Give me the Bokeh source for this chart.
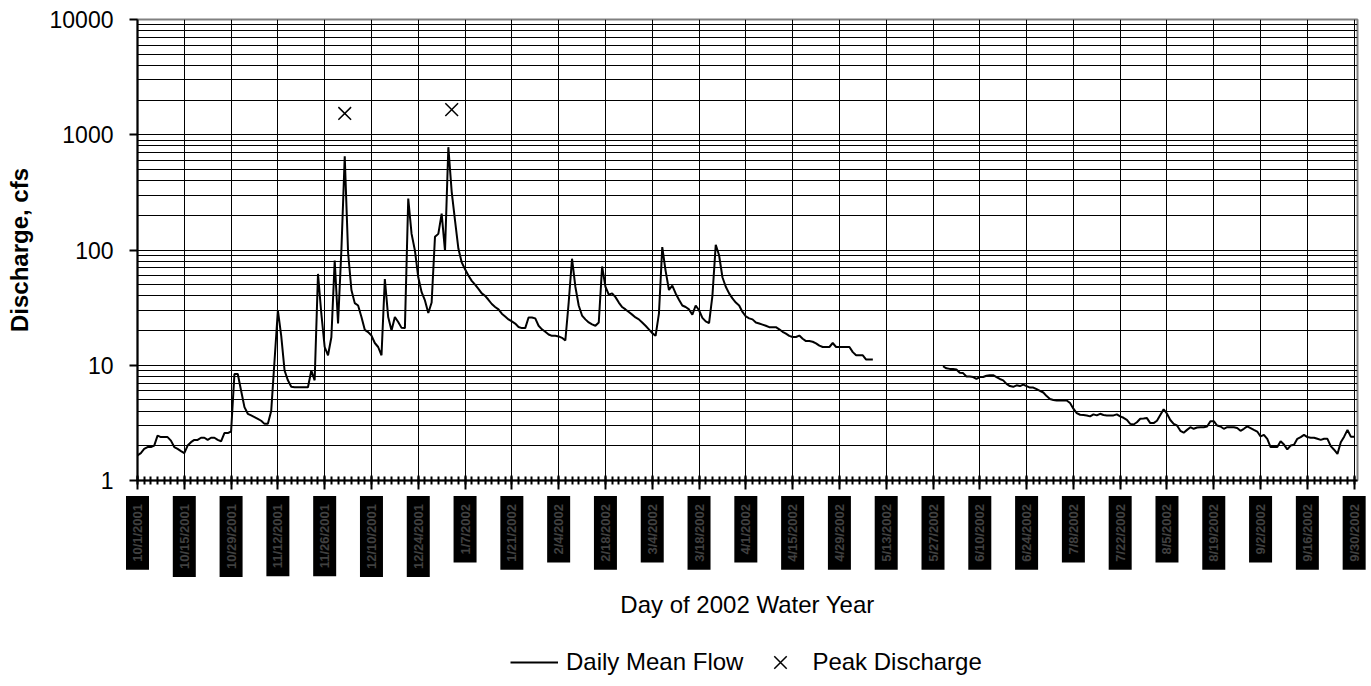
import math
import numpy as np
import pandas as pd
from bokeh.plotting import figure
from bokeh.layouts import column
from bokeh.models import Range1d, FixedTicker, Legend, LegendItem
from bokeh.core.properties import value
from bokeh.embed import file_html
from bokeh.resources import INLINE

nan = float("nan")
start_date = "2001-10-01"

# Daily mean flow, cfs (water year 2002), one list per month
flow_oct = [1.65, 1.73, 1.88, 1.95, 1.95, 2.01, 2.45, 2.38, 2.38, 2.38,
            2.22, 1.95, 1.88, 1.80, 1.73, 2.01, 2.15, 2.25, 2.25, 2.35,
            2.35, 2.25, 2.35, 2.35, 2.25, 2.19, 2.58, 2.58, 2.66, 8.4, 8.4]
flow_nov = [6.0, 4.33, 3.79, 3.67, 3.55, 3.43, 3.3, 3.1, 3.1, 4.0,
            11, 30, 18, 9.0, 7.4, 6.5, 6.45, 6.45, 6.45, 6.45,
            6.45, 9.0, 7.4, 62, 28, 14.4, 12.2, 17.5, 81, 23]
flow_dec = [100, 650, 95, 45, 34.6, 33, 26.2, 20.3, 19.4, 18.1,
            15.6, 14.4, 12.2, 56, 26.2, 20, 26.2, 23.7, 21.1, 21,
            279, 138, 99, 58, 43, 36.5, 28.4, 35, 130, 138, 207]
flow_jan = [98, 780, 320, 180, 103, 78, 68, 60, 54, 50,
            46, 42, 40, 37, 34, 32, 30.5, 28, 26.5, 25,
            24, 23, 21.5, 21, 21, 26, 26, 25.5, 22, 20.5, 19.5]
flow_feb = [18.5, 18, 18, 17.8, 17.3, 16.4, 35, 84, 48, 33,
            27, 25, 23.5, 22.6, 22, 23.5, 72, 48, 41, 42,
            39, 35, 32, 30.5, 29, 27.5, 26, 25]
flow_mar = [23.5, 22, 20.5, 19, 18, 28, 106, 66, 45, 49,
            42, 37, 33, 32, 30.5, 27.5, 33, 30, 25.8, 24,
            23.2, 40, 111, 90, 58, 48, 42, 38, 35, 33, 29]
flow_apr = [26.5, 25.5, 25, 23.5, 23, 22.5, 22, 21.4, 21.4, 21.4,
            20.5, 19.5, 18.8, 18, 17.6, 17.6, 18.1, 17, 16.2, 16.2,
            16, 15.5, 14.8, 14.4, 14.4, 14.4, 15.6, 14.4, 14.4, 14.4]
flow_may = [14.4, 14.4, 13, 12.2, 12.2, 12.2, 11.2, 11.2, 11.2, nan,
            nan, nan, nan, nan, nan, nan, nan, nan, nan, nan,
            nan, nan, nan, nan, nan, nan, nan, nan, nan, 9.8, 9.4]
flow_jun = [9.3, 9.3, 9.2, 8.6, 8.55, 8.0, 8.0, 7.9, 7.6, 7.9,
            7.9, 8.1, 8.2, 8.2, 7.9, 7.6, 7.4, 6.9, 6.6, 6.5,
            6.7, 6.6, 6.8, 6.6, 6.4, 6.4, 6.2, 6.0, 5.8, 5.4]
flow_jul = [5.1, 5.0, 4.95, 4.95, 4.95, 4.95, 4.7, 4.2, 3.85, 3.72,
            3.7, 3.67, 3.6, 3.75, 3.67, 3.79, 3.7, 3.67, 3.67, 3.67,
            3.75, 3.6, 3.5, 3.36, 3.1, 3.06, 3.2, 3.43, 3.45, 3.48, 3.15]
flow_aug = [3.15, 3.3, 3.7, 4.15, 3.8, 3.35, 3.1, 3.0, 2.7, 2.6,
            2.75, 2.9, 2.81, 2.88, 2.9, 2.9, 2.94, 3.27, 3.27, 3.0,
            2.94, 2.81, 2.9, 2.9, 2.9, 2.85, 2.7, 2.81, 2.95, 2.85, 2.75]
flow_sep = [2.66, 2.41, 2.49, 2.3, 1.95, 1.95, 1.95, 2.19, 2.05, 1.86,
            2.01, 2.04, 2.3, 2.38, 2.49, 2.38, 2.35, 2.35, 2.3, 2.25,
            2.3, 2.3, 1.99, 1.85, 1.70, 2.15, 2.4, 2.75, 2.4, 2.4]

peak_dates = ["12/2/2001", "1/3/2002"]
peak_values = [1530, 1650]

tick_labels = ["10/1/2001", "10/15/2001", "10/29/2001", "11/12/2001", "11/26/2001",
               "12/10/2001", "12/24/2001", "1/7/2002", "1/21/2002", "2/4/2002",
               "2/18/2002", "3/4/2002", "3/18/2002", "4/1/2002", "4/15/2002",
               "4/29/2002", "5/13/2002", "5/27/2002", "6/10/2002", "6/24/2002",
               "7/8/2002", "7/22/2002", "8/5/2002", "8/19/2002", "9/2/2002",
               "9/16/2002", "9/30/2002"]
y_ticks = [1, 10, 100, 1000, 10000]
y_minor = [m * 10 ** k for k in range(4) for m in range(2, 10)]

flow = (flow_oct + flow_nov + flow_dec + flow_jan + flow_feb + flow_mar +
        flow_apr + flow_may + flow_jun + flow_jul + flow_aug + flow_sep)
n_days = len(flow)
day = np.arange(n_days)
t0 = pd.Timestamp(start_date)


def day_of(s):
    return (pd.to_datetime(s, format="%m/%d/%Y") - t0).days


tick_pos = [day_of(s) for s in tick_labels]
peak_pos = [day_of(s) for s in peak_dates]

FONT = "Liberation Sans"
W = 1366
FRAME_L, FRAME_R = 137, 1357
H1, H2 = 495, 190

# ---------------- main chart ----------------
p = figure(width=W, height=H1, x_range=Range1d(0, n_days),
           y_range=Range1d(y_ticks[0], y_ticks[-1]), y_axis_type="log",
           output_backend="svg", toolbar_location=None,
           min_border_top=19, min_border_left=FRAME_L, min_border_right=W - FRAME_R,
           min_border_bottom=H1 - 480)
p.frame_align = False
p.background_fill_color = "white"
p.border_fill_color = "white"
p.outline_line_color = "#808080"
p.outline_line_width = 2

p.xgrid.ticker = FixedTicker(ticks=tick_pos)
p.xgrid.grid_line_color = "black"
p.xgrid.grid_line_width = 1
p.ygrid.grid_line_color = "black"
p.ygrid.minor_grid_line_color = "black"
p.ygrid.grid_line_width = 1
p.ygrid.minor_grid_line_width = 1

p.yaxis.ticker = FixedTicker(ticks=y_ticks, minor_ticks=y_minor)
p.yaxis.major_label_overrides = {v: str(v) for v in y_ticks}
p.yaxis.axis_label = "Discharge, cfs"
p.yaxis.axis_label_text_font = FONT
p.yaxis.axis_label_text_font_style = "bold"
p.yaxis.axis_label_text_font_size = "24px"
p.yaxis.axis_label_text_color = "black"
p.yaxis.axis_label_standoff = 14
p.yaxis.major_label_text_font = FONT
p.yaxis.major_label_text_font_size = "23px"
p.yaxis.major_label_text_color = "black"
p.yaxis.major_label_standoff = 16
p.yaxis.axis_line_color = "black"
p.yaxis.axis_line_width = 2
p.yaxis.major_tick_line_color = "black"
p.yaxis.major_tick_line_width = 2
p.yaxis.major_tick_in = 0
p.yaxis.major_tick_out = 8
p.yaxis.minor_tick_in = 0
p.yaxis.minor_tick_out = 0

p.xaxis.ticker = FixedTicker(ticks=tick_pos, minor_ticks=list(range(0, n_days, 2)))
p.xaxis.major_label_overrides = {v: "" for v in tick_pos}
p.xaxis.major_label_text_font_size = "0px"
p.xaxis.major_label_standoff = 0
p.xaxis.axis_line_color = "black"
p.xaxis.axis_line_width = 2
p.xaxis.major_tick_line_color = "black"
p.xaxis.major_tick_line_width = 2
p.xaxis.minor_tick_line_color = "black"
p.xaxis.minor_tick_line_width = 2
p.xaxis.major_tick_in = 5
p.xaxis.major_tick_out = 9
p.xaxis.minor_tick_in = 4
p.xaxis.minor_tick_out = 4

p.line(day, flow, line_color="black", line_width=2)
p.scatter(peak_pos, peak_values, marker="x", size=18, line_color="black", line_width=1.5)

# ---------------- lower strip: date labels, axis title, legend ----------------
# full-width frame whose x mapping matches the chart's frame above
px_per_day = (FRAME_R - FRAME_L) / n_days
x_range2 = Range1d(-FRAME_L / px_per_day, n_days + (W - FRAME_R) / px_per_day)
q = figure(width=W, height=H2, x_range=x_range2, y_range=Range1d(H2, 0),
           output_backend="svg", toolbar_location=None,
           x_axis_location=None, y_axis_location=None,
           min_border_top=0, min_border_left=0, min_border_right=0, min_border_bottom=0)
q.frame_align = False
q.outline_line_color = None
q.background_fill_color = "white"
q.border_fill_color = "white"
q.xgrid.visible = False
q.ygrid.visible = False

q.text(x=tick_pos, y=[0.5] * len(tick_pos), text=tick_labels,
       angle=math.pi / 2, text_align="right", text_baseline="middle",
       text_font=value(FONT), text_font_size="13px", text_font_style="bold",
       text_color="#404040", background_fill_color="black", padding=(8, 4))

q.text(x=[n_days / 2], y=[604 - H1], text=["Day of 2002 Water Year"],
       text_align="center", text_baseline="middle",
       text_font=value(FONT), text_font_size="24px", text_color="black")

# legend glyph sources (single NaN point: nothing drawn in the strip)
lg_line = q.line(x=[nan], y=[nan], line_color="black", line_width=2)
lg_peak = q.scatter(x=[nan], y=[nan], marker="x", line_color="black", line_width=1.5)

legend = Legend(items=[LegendItem(label="Daily Mean Flow", renderers=[lg_line]),
                       LegendItem(label="Peak Discharge", renderers=[lg_peak])],
                orientation="horizontal", location=(510, 1),
                border_line_alpha=0, background_fill_alpha=0,
                label_text_font=FONT, label_text_font_size="24px",
                label_text_color="black", label_text_baseline="middle",
                glyph_width=48, glyph_height=44, label_standoff=8, spacing=13,
                margin=0, padding=0)
q.add_layout(legend)

layout = column(p, q, spacing=0)
open("out.html", "w").write(file_html(layout, INLINE))
